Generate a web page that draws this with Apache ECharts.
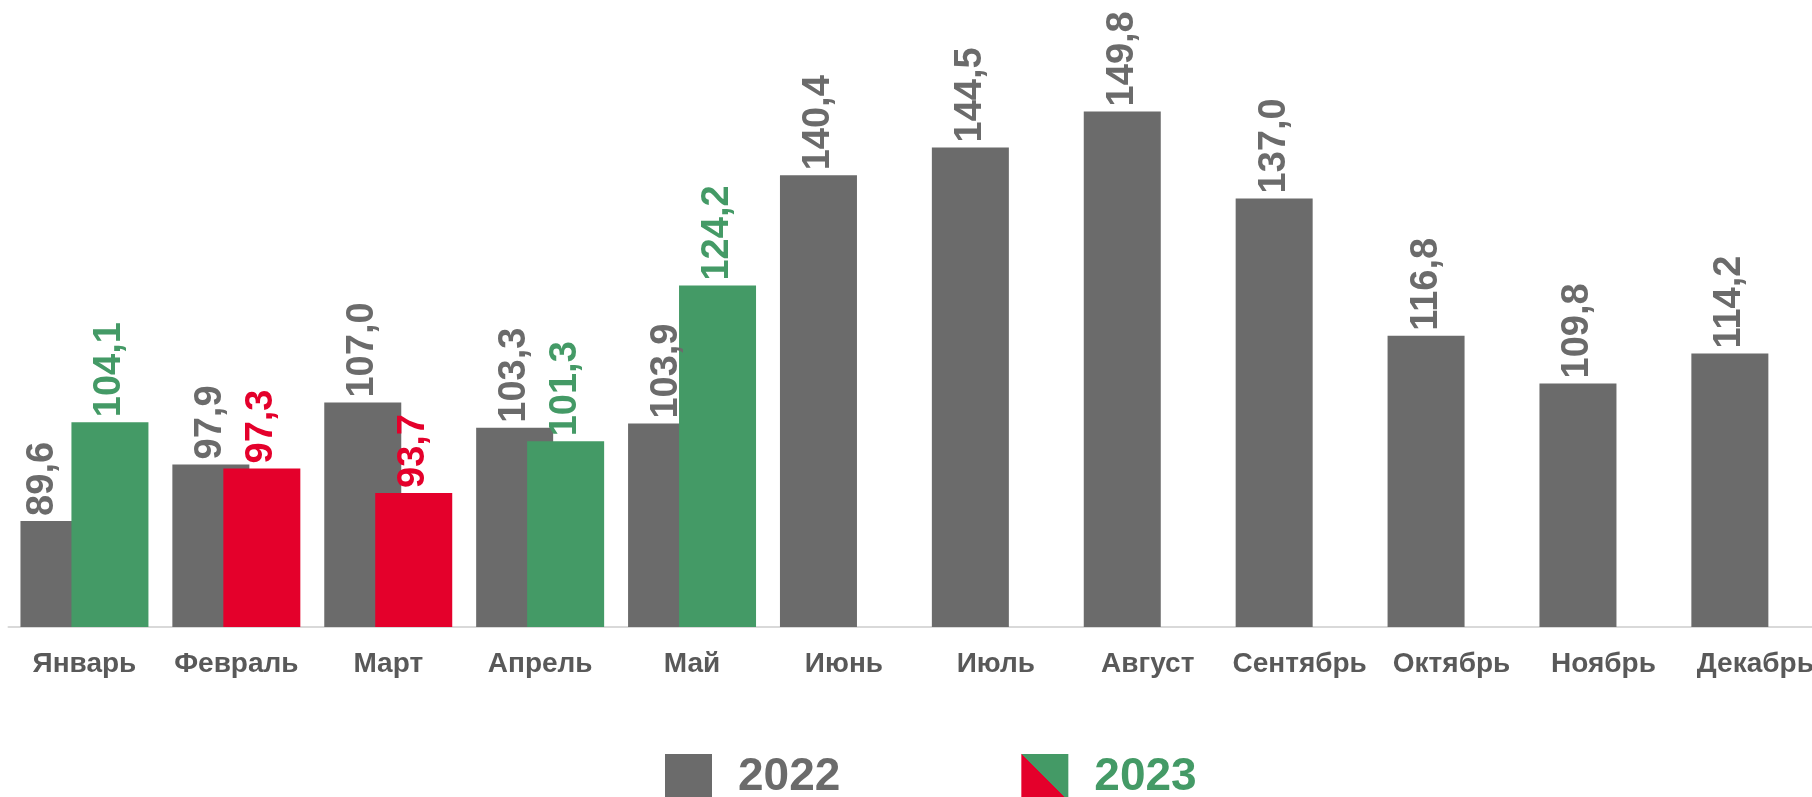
<!DOCTYPE html>
<html>
<head>
<meta charset="utf-8">
<script src="https://cdn.jsdelivr.net/npm/echarts@6/dist/echarts.min.js"></script>
<style>
html,body{margin:0;padding:0;background:#fff;}
#chart{width:1812px;height:797px;}
</style>
</head>
<body>
<div id="chart"></div>
<script>
var categories = ['Январь','Февраль','Март','Апрель','Май','Июнь','Июль','Август','Сентябрь','Октябрь','Ноябрь','Декабрь'];
var values2022 = [89.6, 97.9, 107.0, 103.3, 103.9, 140.4, 144.5, 149.8, 137.0, 116.8, 109.8, 114.2];
var values2023 = [104.1, 97.3, 93.7, 101.3, 124.2, null, null, null, null, null, null, null];
var seriesNames = ['2022', '2023'];

var GRAY = '#6b6b6b', GREEN = '#449a66', RED = '#e4002b';
var FONT = "'Liberation Sans', Arial, sans-serif";
function fmt(v){ return v.toFixed(1).replace('.', ','); }
var splitGrad = new echarts.graphic.LinearGradient(0, 1, 1, 0, [
  {offset:0, color:RED},{offset:0.5, color:RED},{offset:0.5, color:GREEN},{offset:1, color:GREEN}
]);

var data2022 = values2022.map(function(v, i){
  var item = {value: v};
  if (i === 0) item.label = {offset: [0, -16]};
  return item;
});
var data2023 = values2023.map(function(v){
  if (v == null) return null;
  var c = v >= 100 ? GREEN : RED;
  return {value: v, itemStyle:{color:c}, label:{color:c}};
});

var labelBase = {
  show: true, position: 'top', rotate: 90, align: 'left', verticalAlign: 'middle',
  distance: 5, fontSize: 38, fontWeight: 'bold', fontFamily: FONT,
  formatter: function(p){ return fmt(p.value); }
};

var chart = echarts.init(document.getElementById('chart'));
chart.setOption({
  animation: false,
  backgroundColor: '#ffffff',
  grid: {left: 8.5, width: 1822.8, top: 42, bottom: 170, containLabel: false, outerBoundsMode: 'none'},
  legend: {
    left: 660, top: 749,
    itemWidth: 47, itemHeight: 47, itemGap: 181,
    icon: 'rect',
    textStyle: {fontSize: 46, fontWeight: 'bold', fontFamily: FONT, lineHeight: 47, padding: [0,0,0,21]},
    data: [
      {name: seriesNames[0], itemStyle:{color: GRAY}, textStyle:{color: GRAY}},
      {name: seriesNames[1], itemStyle:{color: splitGrad}, textStyle:{color: GREEN}}
    ]
  },
  xAxis: {
    type: 'category', data: categories,
    axisTick: {show: false},
    axisLine: {lineStyle: {color: '#d9d9d9', width: 2}},
    axisLabel: {interval: 0, margin: 23, fontSize: 28, fontWeight: 'bold', fontFamily: FONT, color: '#595959'}
  },
  yAxis: {type: 'value', min: 74, max: 160, show: false, splitLine: {show: false}},
  series: [
    {name: seriesNames[0], type: 'bar', data: data2022, barWidth: 77, barGap: '-33.8%',
     itemStyle: {color: GRAY},
     label: Object.assign({}, labelBase, {color: GRAY})},
    {name: seriesNames[1], type: 'bar', data: data2023, barWidth: 77, barGap: '-33.8%',
     itemStyle: {color: splitGrad},
     label: Object.assign({}, labelBase)}
  ]
});
</script>
</body>
</html>
